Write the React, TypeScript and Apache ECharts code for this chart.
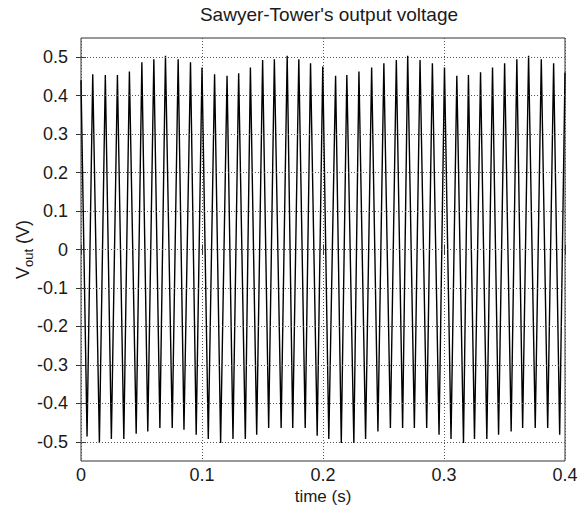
import React, { useEffect, useRef } from "react";
import * as echarts from "echarts";

const chartTitle = "Sawyer-Tower's output voltage";
const xAxisName = "time (s)";
const xTicks = [0, 0.1, 0.2, 0.3, 0.4];
const yTicks = [-0.5, -0.4, -0.3, -0.2, -0.1, 0, 0.1, 0.2, 0.3, 0.4, 0.5];

const startPoint = [0, 0.44];
const endPoint = [0.4, 0.46];

const peakTimes = [
  0.0097, 0.0201, 0.0301, 0.04, 0.0503, 0.0602, 0.0698, 0.0803, 0.0905, 0.1,
  0.1104, 0.1207, 0.1303, 0.14, 0.1501, 0.1598, 0.1704, 0.18, 0.1897, 0.1998,
  0.2104, 0.2197, 0.2297, 0.2402, 0.2503, 0.2606, 0.27, 0.2802, 0.2904, 0.3004,
  0.3106, 0.3202, 0.3302, 0.3401, 0.3501, 0.3602, 0.3699, 0.3804, 0.3906,
];
const peakValues = [
  0.456, 0.454, 0.454, 0.463, 0.487, 0.495, 0.504, 0.495, 0.487, 0.473,
  0.456, 0.452, 0.458, 0.473, 0.493, 0.495, 0.504, 0.495, 0.484, 0.476,
  0.452, 0.454, 0.463, 0.473, 0.484, 0.493, 0.504, 0.493, 0.484, 0.473,
  0.452, 0.454, 0.461, 0.473, 0.484, 0.495, 0.504, 0.495, 0.484,
];
const troughTimes = [
  0.005, 0.0152, 0.0251, 0.0354, 0.0456, 0.0552, 0.0652, 0.0754, 0.0851, 0.0952,
  0.1052, 0.1154, 0.1256, 0.1358, 0.1452, 0.1551, 0.1654, 0.175, 0.1853, 0.1952,
  0.2048, 0.2151, 0.2255, 0.2352, 0.2454, 0.2557, 0.2658, 0.2755, 0.2857, 0.2959,
  0.3058, 0.3161, 0.3252, 0.3354, 0.3451, 0.3555, 0.365, 0.3754, 0.3857, 0.3956,
];
const troughValues = [
  -0.486, -0.503, -0.493, -0.493, -0.479, -0.473, -0.464, -0.464, -0.469, -0.482,
  -0.493, -0.503, -0.493, -0.493, -0.482, -0.464, -0.464, -0.464, -0.464, -0.484,
  -0.493, -0.503, -0.503, -0.493, -0.473, -0.464, -0.464, -0.464, -0.464, -0.482,
  -0.493, -0.503, -0.493, -0.493, -0.482, -0.473, -0.464, -0.464, -0.464, -0.482,
];

const FONT = "'Liberation Sans', Arial, Helvetica, sans-serif";
const TXT = "#1a1a1a";

export default function App() {
  const ref = useRef<HTMLDivElement>(null);

  useEffect(() => {
    if (!ref.current) return;
    const chart = echarts.init(ref.current, undefined, { renderer: "svg" });

    const points: number[][] = [startPoint];
    peakTimes.forEach((t, i) => points.push([t, peakValues[i]]));
    troughTimes.forEach((t, i) => points.push([t, troughValues[i]]));
    points.push(endPoint);
    points.sort((a, b) => a[0] - b[0]);

    const gridDash = { type: [1, 2] as any, color: "#555", width: 1 };
    const fmt = (v: number) => String(Math.round(v * 10) / 10);

    chart.setOption({
      animation: false,
      backgroundColor: "#fff",
      textStyle: { fontFamily: FONT },
      title: {
        text: chartTitle,
        left: 324,
        textAlign: "center",
        top: 0,
        textStyle: { fontFamily: FONT, fontSize: 19, fontWeight: "normal", color: TXT },
      },
      grid: {
        left: 81,
        right: 14,
        top: 38,
        bottom: 45,
        outerBoundsMode: "none",
        containLabel: false,
        show: true,
        borderColor: "#333",
        borderWidth: 1,
        backgroundColor: "transparent",
      },
      xAxis: [
        {
          type: "value",
          min: 0,
          max: 0.4,
          interval: 0.1,
          position: "bottom",
          name: xAxisName,
          nameLocation: "middle",
          nameGap: 27,
          nameMoveOverlap: false,
          nameTextStyle: { fontFamily: FONT, fontSize: 17, color: TXT },
          axisLine: { show: false },
          axisTick: { show: true, inside: true, length: 5, lineStyle: { color: "#333" } },
          axisLabel: {
            color: TXT,
            fontFamily: FONT,
            fontSize: 18,
            margin: 5,
            customValues: xTicks,
            formatter: fmt,
          },
          splitLine: { show: true, lineStyle: gridDash },
        },
        {
          type: "value",
          min: 0,
          max: 0.4,
          interval: 0.1,
          position: "top",
          axisLine: { show: false },
          axisTick: { show: true, inside: true, length: 5, lineStyle: { color: "#333" } },
          axisLabel: { show: false },
          splitLine: { show: false },
        },
      ],
      yAxis: [
        {
          type: "value",
          min: -0.55,
          max: 0.55,
          position: "left",
          name: "{v|V}{s|out}{v| (V)}",
          nameLocation: "middle",
          nameGap: 46,
          nameMoveOverlap: false,
          nameTextStyle: {
            fontFamily: FONT,
            fontSize: 18,
            color: TXT,
            rich: {
              v: { fontFamily: FONT, fontSize: 18, color: TXT, lineHeight: 24, verticalAlign: "middle" },
              s: { fontFamily: FONT, fontSize: 13, color: TXT, lineHeight: 24, verticalAlign: "bottom" },
            },
          },
          axisLine: { show: false },
          axisTick: { show: true, inside: true, length: 5, customValues: yTicks, lineStyle: { color: "#333" } },
          axisLabel: {
            color: TXT,
            fontFamily: FONT,
            fontSize: 18,
            margin: 13,
            customValues: yTicks,
            formatter: fmt,
          },
          splitLine: { show: false },
        },
        {
          type: "value",
          min: -0.55,
          max: 0.55,
          position: "right",
          axisLine: { show: false },
          axisTick: { show: true, inside: true, length: 5, customValues: yTicks, lineStyle: { color: "#333" } },
          axisLabel: { show: false },
          splitLine: { show: false },
        },
      ],
      series: [
        {
          type: "line",
          data: points,
          xAxisIndex: 0,
          yAxisIndex: 0,
          showSymbol: false,
          symbol: "none",
          lineStyle: { color: "#000", width: 1.4 },
          silent: true,
          markLine: {
            silent: true,
            symbol: ["none", "none"],
            label: { show: false },
            lineStyle: gridDash,
            data: yTicks.map((v) => ({ yAxis: v })),
          },
          z: 3,
        },
      ],
    });

    return () => chart.dispose();
  }, []);

  return (
    <div
      ref={ref}
      style={{ position: "absolute", left: 0, top: 0, width: 579, height: 506 }}
    />
  );
}
